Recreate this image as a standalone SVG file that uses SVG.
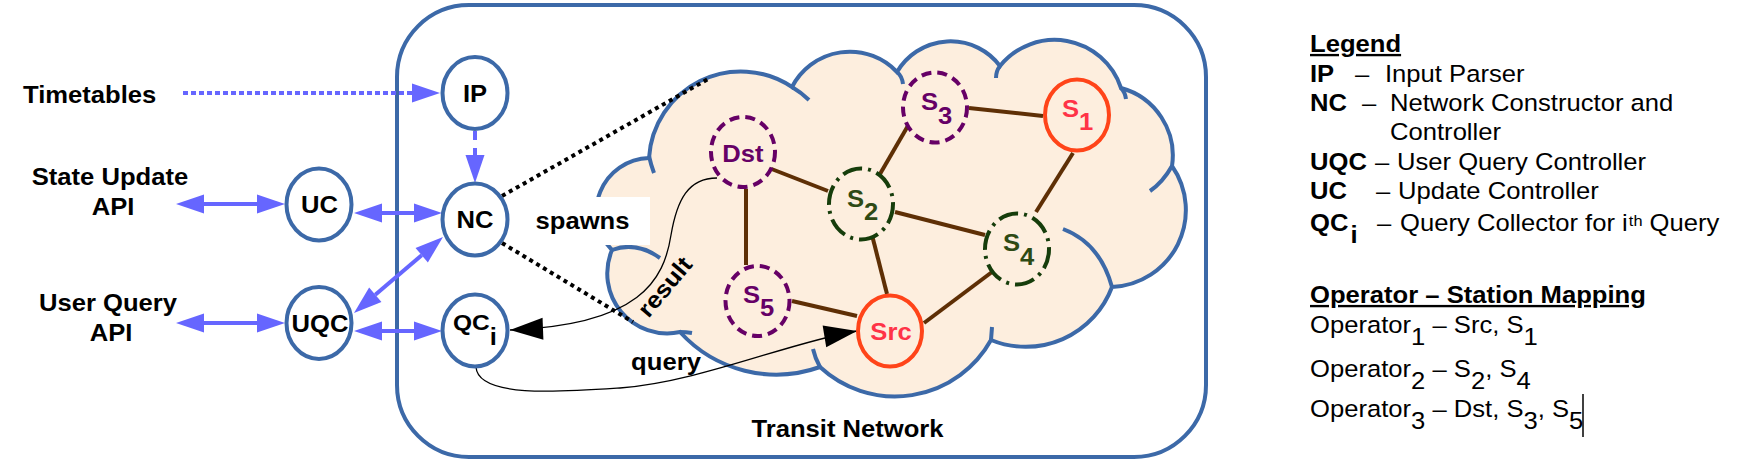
<svg xmlns="http://www.w3.org/2000/svg" width="1755" height="472" viewBox="0 0 1755 472">
<style>
 text { font-family: "Liberation Sans", Arial, sans-serif; font-size: 23.5px; fill: #000; }
 .b { font-weight: bold; }
 .node { fill: #fff; stroke: #3c69a8; stroke-width: 4; }
 .cl { fill: #fdeede; stroke: #3c69a8; stroke-width: 4; }
 .hint { fill: none; stroke: #3c69a8; stroke-width: 4; }
 .edge { stroke: #5e2f05; stroke-width: 4; }
 .pur { fill: #fdeede; stroke: #660066; stroke-width: 4; stroke-dasharray: 10 6; }
 .grn { fill: #fdeede; stroke: #163d0b; stroke-width: 4; stroke-dasharray: 20 6 3 6; }
 .red { fill: #fdeede; stroke: #ff4419; stroke-width: 4; }
 .ba { stroke: #6666ff; stroke-width: 4; fill: none; }
 .dot { stroke: #000; stroke-width: 4; stroke-dasharray: 4 4; fill: none; }
 .crv { fill: none; stroke: #000; stroke-width: 1.3; }
 .tp { fill: #660066; }
 .tg { fill: #2e4a14; }
 .tr { fill: #ff3347; }
</style>
<defs>
 <marker id="ba" markerUnits="userSpaceOnUse" markerWidth="28" markerHeight="19" refX="0" refY="9.5" orient="auto-start-reverse" overflow="visible">
  <path d="M0,0 L28,9.5 L0,19 Z" fill="#6666ff"/>
 </marker>
 <marker id="ka" markerUnits="userSpaceOnUse" markerWidth="33" markerHeight="22" refX="33" refY="11" orient="auto" overflow="visible">
  <path d="M0,0 L33,11 L0,22 Z" fill="#000"/>
 </marker>
</defs>

<rect width="1755" height="472" fill="#fff"/>

<g id="transit-network">
 <rect x="397" y="5" width="809" height="452" rx="72" ry="72" fill="#fff" stroke="#3c69a8" stroke-width="4"/>
 <text class="b" text-anchor="middle" transform="translate(847.5,437) scale(1.09,1)">Transit Network</text>
</g>

<g id="cloud">
 <path class="cl" d="M612,250 A54,54 0 0 1 649,158 A92,92 0 0 1 792,87 A65,65 0 0 1 897,72 A62,62 0 0 1 1000,66 A70,70 0 0 1 1121,88 A70,70 0 0 1 1172,166 A77,77 0 0 1 1112,287 A92,92 0 0 1 991,340 A110,110 0 0 1 820,367 A130,130 0 0 1 680,332 A60,60 0 0 1 612,250 Z"/>
 <path class="hint" d="M649,156 Q651,165 654,173 M792,87 A92,92 0 0 1 809,100 M897,72 Q902,76 903,84 M1000,66 Q996,71 996,78 M1121,88 Q1125,92 1126,99 M1172,166 Q1163,182 1150,191 M1063,229 Q1100,243 1112,287 M991,340 L992,327 M820,367 Q815,358 813,349 M680,332 Q686,332 692,333 M612,250 Q636,241 660,258"/>
</g>

<g id="spawns-label">
 <rect x="528" y="197" width="122" height="48" fill="#fff"/>
 <text class="b" text-anchor="middle" transform="translate(582.5,229) scale(1.09,1)">spawns</text>
</g>

<g id="connectors">
 <line class="edge" x1="769" y1="168" x2="828" y2="191"/>
 <line class="edge" x1="746" y1="189" x2="746" y2="265"/>
 <line class="edge" x1="792" y1="301" x2="857" y2="316"/>
 <line class="edge" x1="969" y1="108" x2="1043" y2="116"/>
 <line class="edge" x1="909" y1="124" x2="880" y2="174"/>
 <line class="edge" x1="1073" y1="153" x2="1036" y2="212"/>
 <line class="edge" x1="895" y1="212" x2="985" y2="235"/>
 <line class="edge" x1="872" y1="235" x2="887" y2="294"/>
 <line class="edge" x1="924" y1="323" x2="992" y2="272"/>

 <line class="ba" x1="183" y1="93" x2="412" y2="93" stroke-width="5" stroke-dasharray="5 3" marker-end="url(#ba)"/>
 <line class="ba" x1="475" y1="131" x2="475" y2="155" stroke-dasharray="9 8" marker-end="url(#ba)"/>
 <line class="ba" x1="204" y1="204" x2="257" y2="204" marker-start="url(#ba)" marker-end="url(#ba)"/>
 <line class="ba" x1="382" y1="213" x2="414" y2="213" marker-start="url(#ba)" marker-end="url(#ba)"/>
 <line class="ba" x1="375.3" y1="294.8" x2="421.7" y2="255.2" marker-start="url(#ba)" marker-end="url(#ba)"/>
 <line class="ba" x1="204" y1="323" x2="257" y2="323" marker-start="url(#ba)" marker-end="url(#ba)"/>
 <line class="ba" x1="382" y1="331" x2="414" y2="331" marker-start="url(#ba)" marker-end="url(#ba)"/>

 <line class="dot" x1="502" y1="196" x2="708" y2="79"/>
 <line class="dot" x1="502" y1="243" x2="633" y2="322"/>

 <path class="crv" d="M717,178 C688,178 677,200 671,235 C664,280 640,325 510,330" marker-end="url(#ka)"/>
 <path class="crv" d="M476,367 C478,398 560,392 620,388 C700,382 790,342 857,331" marker-end="url(#ka)"/>
 <text class="b" text-anchor="middle" transform="translate(671,292) rotate(-50) scale(1.09,1)">result</text>
 <text class="b" text-anchor="middle" transform="translate(666,370) scale(1.09,1)">query</text>
</g>

<g id="inputs">
 <text class="b" transform="translate(23,102.5) scale(1.09,1)">Timetables</text>
 <text class="b" text-anchor="middle" transform="translate(110,185) scale(1.09,1)">State Update</text>
 <text class="b" text-anchor="middle" transform="translate(113,215) scale(1.09,1)">API</text>
 <text class="b" text-anchor="middle" transform="translate(108,311) scale(1.09,1)">User Query</text>
 <text class="b" text-anchor="middle" transform="translate(111,341) scale(1.09,1)">API</text>
</g>

<g id="ip"><ellipse class="node" cx="475" cy="93" rx="32.5" ry="36"/><text class="b" text-anchor="middle" transform="translate(475,102) scale(1.09,1)">IP</text></g>
<g id="nc"><ellipse class="node" cx="475" cy="219.5" rx="32.5" ry="36"/><text class="b" text-anchor="middle" transform="translate(475,228) scale(1.09,1)">NC</text></g>
<g id="qc"><ellipse class="node" cx="475" cy="330.5" rx="32.5" ry="36"/><text class="b" style="font-size:22.5px" transform="translate(453,330) scale(1.09,1)">QC<tspan y="15" style="font-size:23.5px">i</tspan></text></g>
<g id="uc"><ellipse class="node" cx="319" cy="204.5" rx="32.5" ry="36"/><text class="b" text-anchor="middle" transform="translate(319.5,213) scale(1.09,1)">UC</text></g>
<g id="uqc"><ellipse class="node" cx="319" cy="323" rx="32.5" ry="36"/><text class="b" text-anchor="middle" transform="translate(320,332) scale(1.09,1)">UQC</text></g>

<g id="dst"><ellipse class="pur" cx="743" cy="152" rx="32" ry="35"/><text class="b tp" text-anchor="middle" transform="translate(743,162) scale(1.09,1)">Dst</text></g>
<g id="s5"><ellipse class="pur" cx="757.5" cy="301" rx="32" ry="35"/><text class="b tp" transform="translate(743,303) scale(1.09,1)">S<tspan y="13">5</tspan></text></g>
<g id="s3"><ellipse class="pur" cx="935" cy="107.5" rx="32" ry="35"/><text class="b tp" transform="translate(921,110) scale(1.09,1)">S<tspan y="14">3</tspan></text></g>
<g id="s1"><ellipse class="red" cx="1077" cy="115" rx="32" ry="35.5"/><text class="b tr" transform="translate(1062,117) scale(1.09,1)">S<tspan y="13">1</tspan></text></g>
<g id="s2"><ellipse class="grn" cx="861" cy="204" rx="32" ry="35.5"/><text class="b tg" transform="translate(847,207) scale(1.09,1)">S<tspan y="13">2</tspan></text></g>
<g id="s4"><ellipse class="grn" cx="1017" cy="249" rx="32" ry="35.5"/><text class="b tg" transform="translate(1003,251) scale(1.09,1)">S<tspan y="14">4</tspan></text></g>
<g id="src"><ellipse class="red" cx="890" cy="331" rx="32" ry="35.5"/><text class="b tr" text-anchor="middle" transform="translate(891,340) scale(1.09,1)">Src</text></g>

<g id="legend">
 <text class="b" text-decoration="underline" transform="translate(1310,52) scale(1.09,1)">Legend</text>
 <text transform="translate(1310,82) scale(1.09,1)"><tspan class="b" x="0">IP</tspan><tspan x="41.3">–</tspan><tspan x="68.8">Input Parser</tspan></text>
 <text transform="translate(1310,111) scale(1.09,1)"><tspan class="b" x="0">NC</tspan><tspan x="47.7">–</tspan><tspan x="73.4">Network Constructor and</tspan></text>
 <text transform="translate(1310,140) scale(1.09,1)"><tspan x="73.4">Controller</tspan></text>
 <text transform="translate(1310,170) scale(1.09,1)"><tspan class="b" x="0">UQC</tspan><tspan x="59.6">–</tspan><tspan x="79.8">User Query Controller</tspan></text>
 <text transform="translate(1310,199) scale(1.09,1)"><tspan class="b" x="0">UC</tspan><tspan x="60.6">–</tspan><tspan x="80.7">Update Controller</tspan></text>
 <text transform="translate(1310,231) scale(1.09,1)"><tspan class="b" x="0">QC</tspan><tspan class="b" dx="2" y="12">i</tspan><tspan x="61.5" y="0">–</tspan><tspan x="82.6">Query Collector for i</tspan><tspan dx="1" y="-5" style="font-size:15px">th</tspan><tspan y="0"> Query</tspan></text>
</g>

<g id="operator-mapping">
 <text class="b" text-decoration="underline" transform="translate(1310,303) scale(1.09,1)">Operator – Station Mapping</text>
 <text transform="translate(1310,333) scale(1.09,1)">Operator<tspan dy="12">1</tspan><tspan dy="-12"> – Src, S</tspan><tspan dy="12">1</tspan></text>
 <text transform="translate(1310,377) scale(1.09,1)">Operator<tspan dy="12">2</tspan><tspan dy="-12"> – S</tspan><tspan dy="12">2</tspan><tspan dy="-12">, S</tspan><tspan dy="12">4</tspan></text>
 <text transform="translate(1310,417) scale(1.09,1)">Operator<tspan dy="12">3</tspan><tspan dy="-12"> – Dst, S</tspan><tspan dy="12">3</tspan><tspan dy="-12">, S</tspan><tspan dy="12">5</tspan></text>
 <line x1="1583" y1="394" x2="1583" y2="437" stroke="#000" stroke-width="1.5"/>
</g>
</svg>
